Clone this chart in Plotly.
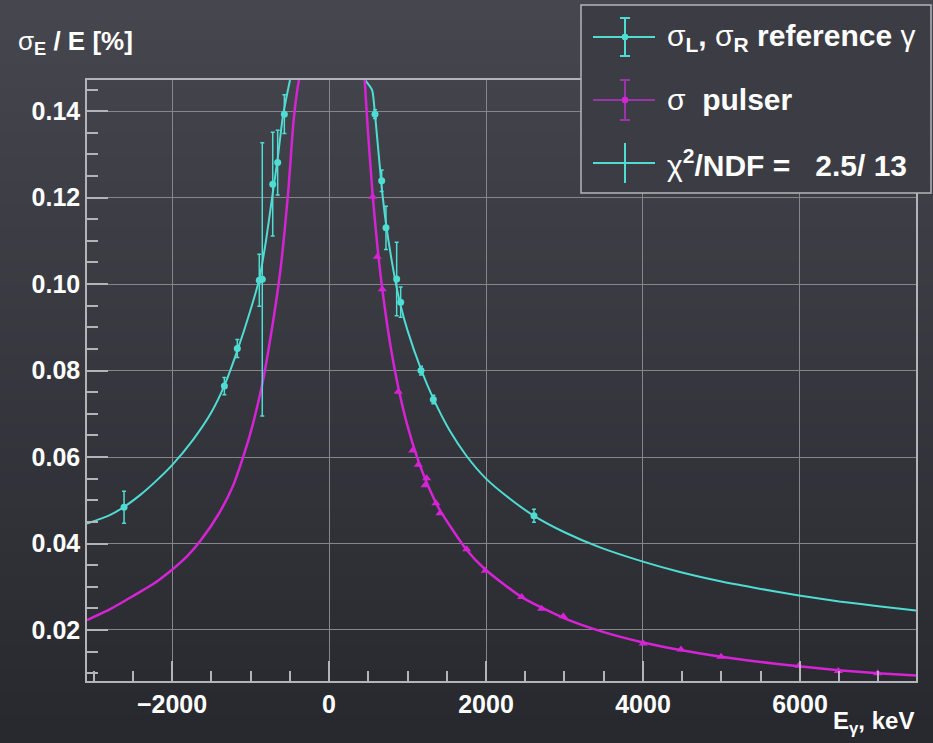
import base64, struct, zlib
import plotly.graph_objects as go

# ---------------- data ----------------
# reference gamma lines: sigma_L (negative side) and sigma_R (positive side)
ref_left_E = [-2611, -1333, -1168, -888, -850, -717, -654, -569]
ref_left_v = [0.0484, 0.0764, 0.0851, 0.1009, 0.1011, 0.1231, 0.1281, 0.1393]
ref_left_err = [0.0037, 0.0020, 0.0021, 0.0060, 0.0316, 0.0120, 0.0075, 0.0045]

ref_right_E = [586, 671, 726, 862, 913, 1172, 1329, 2611]
ref_right_v = [0.1393, 0.1239, 0.1130, 0.1012, 0.0958, 0.0800, 0.0733, 0.0464]
ref_right_err = [0.0010, 0.0025, 0.0050, 0.0085, 0.0035, 0.0010, 0.0010, 0.0015]

# pulser points
pul_E = [556, 615, 679, 883, 1066, 1138, 1223, 1244, 1363, 1414, 1754, 1991,
         2455, 2709, 2985, 4004, 4484, 4994, 5987, 6488, 6990]
pul_v = [0.1202, 0.1063, 0.0988, 0.0751, 0.0615, 0.0582, 0.0535, 0.0551, 0.0493,
         0.0470, 0.0387, 0.0337, 0.0276, 0.0249, 0.0232, 0.0169, 0.0155, 0.0138,
         0.0117, 0.0105, 0.0100]

# fit curves
fitL_E = [-3083, -2800, -2608, -2400, -2195, -1996, -1728, -1500, -1333, -1168,
          -1000, -888, -803, -717, -654, -586, -497]
fitL_v = [0.0446, 0.0465, 0.0485, 0.0513, 0.0546, 0.0582, 0.0641, 0.0703, 0.0765,
          0.0846, 0.0940, 0.1012, 0.1100, 0.1210, 0.1290, 0.1390, 0.1472]

fitR_E = [459, 548, 586, 671, 726, 800, 862, 913, 1000, 1172, 1329, 1541, 1750,
          2000, 2300, 2611, 3000, 3452, 4000, 4471, 5000, 5500, 5987, 6500, 7000, 7478]
fitR_v = [0.1472, 0.1449, 0.1393, 0.1225, 0.1140, 0.1053, 0.0992, 0.0950, 0.0893,
          0.0803, 0.0735, 0.0660, 0.0603, 0.0550, 0.0504, 0.0464, 0.0426, 0.0391,
          0.0358, 0.0334, 0.0312, 0.0295, 0.0280, 0.0266, 0.0255, 0.0245]

pulL_E = [-3083, -2800, -2493, -2250, -1996, -1800, -1643, -1400, -1219, -1020,
          -866, -786, -624, -518, -455, -404, -382]
pulL_v = [0.0223, 0.0247, 0.0279, 0.0305, 0.0340, 0.0372, 0.0405, 0.0470, 0.0535,
          0.0643, 0.0755, 0.0832, 0.1025, 0.1217, 0.1370, 0.1449, 0.1472]

pulR_E = [455, 484, 556, 615, 679, 780, 883, 1000, 1138, 1250, 1400, 1754,
          1991, 2455, 2985, 3500, 4004, 4494, 4994, 5500, 5987, 6488, 6990, 7478]
pulR_v = [0.1472, 0.1385, 0.1206, 0.1090, 0.0988, 0.0861, 0.0761, 0.0672, 0.0591,
          0.0539, 0.0481, 0.0385, 0.0340, 0.0276, 0.0228, 0.0195, 0.0171, 0.0153,
          0.0138, 0.0126, 0.0116, 0.0107, 0.0100, 0.0095]

x_range = [-3083, 7478]
y_range = [0.0082, 0.1472]

CYAN = "#4fdcd2"
MAG = "#d424d4"
MAG_DIM = "#9a34a8"
FRAME = "#b4b4b8"
GRID = "#85858c"
FONT = "Liberation Sans"

# ---------------- background gradient (PNG data URI) ----------------
def gradient_png(top, bottom, n=64):
    rows = b""
    for i in range(n):
        t = i / (n - 1)
        c = [int(round(top[k] + (bottom[k] - top[k]) * t)) for k in range(3)]
        rows += b"\x00" + bytes(c)
    def chunk(tag, data):
        return struct.pack(">I", len(data)) + tag + data + struct.pack(">I", zlib.crc32(tag + data) & 0xffffffff)
    png = b"\x89PNG\r\n\x1a\n"
    png += chunk(b"IHDR", struct.pack(">IIBBBBB", 1, n, 8, 2, 0, 0, 0))
    png += chunk(b"IDAT", zlib.compress(rows))
    png += chunk(b"IEND", b"")
    return "data:image/png;base64," + base64.b64encode(png).decode()

bg = gradient_png((70, 70, 78), (40, 40, 47))

fig = go.Figure()

line_kw = dict(shape="spline", smoothing=0.6)
# fit curves
fig.add_trace(go.Scatter(x=fitL_E, y=fitL_v, mode="lines", line=dict(color=CYAN, width=2, **line_kw), showlegend=False, hoverinfo="skip"))
fig.add_trace(go.Scatter(x=fitR_E, y=fitR_v, mode="lines", line=dict(color=CYAN, width=2, **line_kw), showlegend=False, hoverinfo="skip"))
fig.add_trace(go.Scatter(x=pulL_E, y=pulL_v, mode="lines", line=dict(color=MAG, width=2.5, **line_kw), showlegend=False, hoverinfo="skip"))
fig.add_trace(go.Scatter(x=pulR_E, y=pulR_v, mode="lines", line=dict(color=MAG, width=2.5, **line_kw), showlegend=False, hoverinfo="skip"))

# data points
fig.add_trace(go.Scatter(x=pul_E, y=pul_v, mode="markers",
                         marker=dict(symbol="triangle-up", size=8, color=MAG),
                         showlegend=False))
fig.add_trace(go.Scatter(x=ref_left_E, y=ref_left_v, mode="markers",
                         marker=dict(symbol="circle", size=7, color=CYAN),
                         error_y=dict(type="data", array=ref_left_err, color=CYAN, thickness=1.5, width=2),
                         showlegend=False))
fig.add_trace(go.Scatter(x=ref_right_E, y=ref_right_v, mode="markers",
                         marker=dict(symbol="circle", size=7, color=CYAN),
                         error_y=dict(type="data", array=ref_right_err, color=CYAN, thickness=1.5, width=2),
                         showlegend=False))

L, R, T, B = 87, 916, 80, 681
W, H = R - L, B - T
def px(x):
    return (x - L) / W
def py(y):
    return (B - y) / H

shapes = []
annotations = []

# legend box
shapes.append(dict(type="rect", xref="paper", yref="paper", x0=px(581), x1=px(931), y0=py(5), y1=py(193),
                   line=dict(color=FRAME, width=1.5), fillcolor="rgb(60,60,68)", layer="above"))

def cross(yc, color, vlen, caps=False, dot=None):
    shapes.append(dict(type="line", xref="paper", yref="paper", x0=px(593), x1=px(655), y0=py(yc), y1=py(yc),
                       line=dict(color=color, width=2), layer="above"))
    shapes.append(dict(type="line", xref="paper", yref="paper", x0=px(625), x1=px(625), y0=py(yc - vlen), y1=py(yc + vlen),
                       line=dict(color=color, width=2), layer="above"))
    if caps:
        for yy in (yc - vlen, yc + vlen):
            shapes.append(dict(type="line", xref="paper", yref="paper", x0=px(620), x1=px(630), y0=py(yy), y1=py(yy),
                               line=dict(color=color, width=2), layer="above"))
    if dot:
        shapes.append(dict(type="circle", xref="paper", yref="paper", x0=px(622), x1=px(628), y0=py(yc - 3), y1=py(yc + 3),
                           line=dict(color=dot, width=1), fillcolor=dot, layer="above"))

cross(37, CYAN, 19, caps=True, dot=CYAN)
cross(100, MAG_DIM, 20, caps=True, dot=MAG)
cross(163, CYAN, 20)

leg_font = dict(family=FONT, size=30, color="white")
annotations.append(dict(xref="paper", yref="paper", x=px(665), y=py(37), xanchor="left", yanchor="middle",
                        text="σ<sub><b>L</b></sub><b>,</b> σ<sub><b>R</b></sub> <b>reference</b> γ", showarrow=False, font=leg_font))
annotations.append(dict(xref="paper", yref="paper", x=px(665), y=py(100), xanchor="left", yanchor="middle",
                        text="σ\u00a0 <b>pulser</b>", showarrow=False, font=leg_font))
annotations.append(dict(xref="paper", yref="paper", x=px(665), y=py(163), xanchor="left", yanchor="middle",
                        text="χ<sup><b>2</b></sup><b>/NDF =\u00a0\u00a0 2.5/ 13</b>", showarrow=False, font=leg_font))

# axis titles
annotations.append(dict(xref="paper", yref="paper", x=px(16), y=py(42), xanchor="left", yanchor="middle",
                        text="σ<sub><b>E</b></sub><b> / E [%]</b>", showarrow=False,
                        font=dict(family=FONT, size=26, color="white")))
annotations.append(dict(xref="paper", yref="paper", x=px(916), y=py(722), xanchor="right", yanchor="middle",
                        text="<b>E</b><sub><b>γ</b></sub><b>, keV</b>", showarrow=False,
                        font=dict(family=FONT, size=24, color="white")))

fig.update_layout(
    width=933, height=743,
    margin=dict(l=L, r=933 - R, t=T, b=743 - B),
    paper_bgcolor="rgb(56,56,64)",
    plot_bgcolor="rgba(0,0,0,0)",
    showlegend=False,
    shapes=shapes,
    annotations=annotations,
    images=[dict(source=bg, xref="paper", yref="paper", x=px(0), y=py(0), sizex=933 / W, sizey=743 / H,
                 xanchor="left", yanchor="top", sizing="stretch", layer="below")],
    font=dict(family=FONT, color="white"),
)

tickfont = dict(family=FONT, size=25, color="white", weight="bold")
fig.update_xaxes(range=x_range, tickvals=[-2000, 0, 2000, 4000, 6000], ticks="inside", ticklen=20,
                 tickwidth=1.5, tickcolor=FRAME, showline=True, linecolor=FRAME, linewidth=1.5, mirror=True,
                 showgrid=True, gridcolor=GRID, gridwidth=1, zeroline=False, tickfont=tickfont,
                 minor=dict(ticks="inside", ticklen=10, tickwidth=1.5, tickcolor=FRAME, dtick=500, tick0=0, showgrid=False))
fig.update_yaxes(range=y_range, tickvals=[0.02, 0.04, 0.06, 0.08, 0.10, 0.12, 0.14], tickformat=".2f",
                 ticks="inside", ticklen=21, tickwidth=1.5, tickcolor=FRAME, showline=True, linecolor=FRAME,
                 linewidth=1.5, mirror=True, showgrid=True, gridcolor=GRID, gridwidth=1, zeroline=False,
                 tickfont=tickfont,
                 minor=dict(ticks="inside", ticklen=11, tickwidth=1.5, tickcolor=FRAME, dtick=0.005, tick0=0, showgrid=False))

fig.write_html("out.html")
